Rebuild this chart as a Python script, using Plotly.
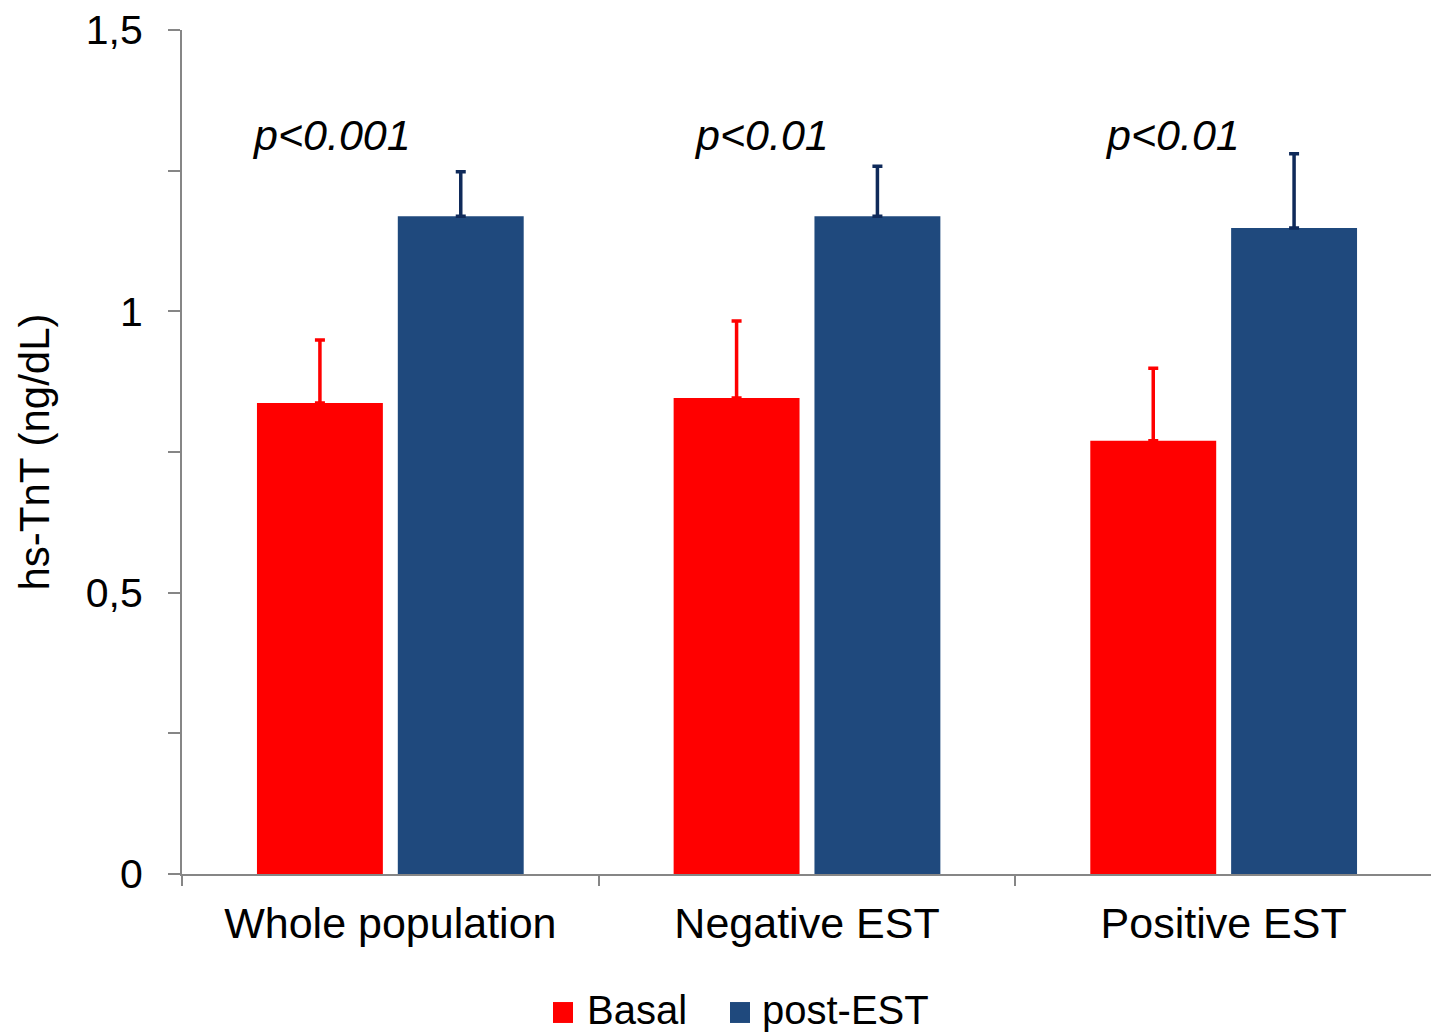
import plotly.graph_objects as go

categories = ["Whole population", "Negative EST", "Positive EST"]
series_names = ["Basal", "post-EST"]
basal = [0.837, 0.846, 0.770]
basal_err = [0.112, 0.137, 0.129]
post = [1.169, 1.169, 1.148]
post_err = [0.079, 0.089, 0.132]
p_labels = ["p<0.001", "p<0.01", "p<0.01"]
y_tickvals = [0, 0.25, 0.5, 0.75, 1.0, 1.25, 1.5]
y_ticktext = ["0", "", "0,5", "", "1", "", "1,5"]

RED = "#FF0000"
BLUE = "#1F497D"
FONT = "Liberation Sans, Arial, sans-serif"

fig = go.Figure()
fig.add_trace(go.Bar(
    name=series_names[0], x=categories, y=basal, marker=dict(color=RED, line=dict(width=0)),
    error_y=dict(type="data", array=basal_err, arrayminus=[0]*3, symmetric=False,
                 color=RED, thickness=3.5, width=5),
    showlegend=False,
))
fig.add_trace(go.Bar(
    name=series_names[1], x=categories, y=post, marker=dict(color=BLUE, line=dict(width=0)),
    error_y=dict(type="data", array=post_err, arrayminus=[0]*3, symmetric=False,
                 color="#0F2A5A", thickness=3.5, width=5),
    showlegend=False,
))

shifts = [-59, -46, -51]
for i, (lab, sh) in enumerate(zip(p_labels, shifts)):
    fig.add_annotation(x=i, y=1.313, xref="x", yref="y", text="<i>%s</i>" % lab,
                       showarrow=False, xshift=sh,
                       font=dict(size=43, color="black", family=FONT))

# manual legend (large square swatches)
legend_items = [(series_names[0], RED, 0.2968, 0.322), (series_names[1], BLUE, 0.4384, 0.462)]
for nm, col, sx, tx in legend_items:
    fig.add_shape(type="rect", xref="paper", yref="paper",
                  x0=sx, x1=sx + 0.016, y0=-0.1765, y1=-0.1517,
                  fillcolor=col, line=dict(width=0))
    fig.add_annotation(xref="paper", yref="paper", x=tx, y=-0.161, text=nm,
                       xanchor="left", yanchor="middle", showarrow=False,
                       font=dict(size=40, color="black", family=FONT))

# page body has an 8px margin; size the figure so the plot area lands where intended
fig.update_layout(
    width=1431, height=1025,
    margin=dict(l=174, r=7, t=22, b=159, autoexpand=False),
    plot_bgcolor="white", paper_bgcolor="white",
    barmode="group", bargap=0.324, bargroupgap=0.106,
    font=dict(family=FONT, color="black"),
    showlegend=False,
)
fig.update_xaxes(
    showline=True, linecolor="#868686", linewidth=2,
    ticks="outside", tickson="boundaries", ticklen=10, tickcolor="#868686", tickwidth=2,
    tickfont=dict(size=43, family=FONT, color="black"), ticklabelstandoff=10,
    showgrid=False, zeroline=False, automargin=False,
)
fig.update_yaxes(
    range=[0, 1.5], showline=True, linecolor="#868686", linewidth=2,
    ticks="outside", ticklen=12, tickcolor="#868686", tickwidth=2,
    tickvals=y_tickvals, ticktext=y_ticktext, ticklabeloverflow="allow",
    tickfont=dict(size=41, family=FONT, color="black"), ticklabelstandoff=17,
    showgrid=False, zeroline=False, automargin=False,
    title=dict(text="hs-TnT (ng/dL)", font=dict(size=42, family=FONT, color="black"), standoff=23),
)

fig.write_html("out.html")
